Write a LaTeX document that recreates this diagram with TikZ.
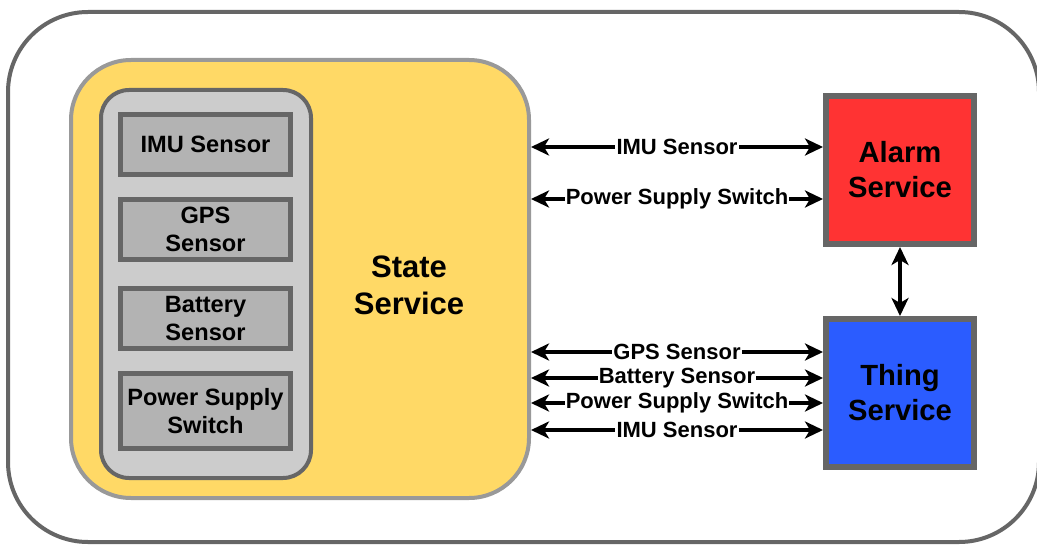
\documentclass[tikz,border=0pt]{standalone}
\usepackage{fontspec}
\setmainfont{Liberation Sans}
\usetikzlibrary{arrows.meta,positioning}
\definecolor{framegray}{HTML}{666666}
\definecolor{stategray}{HTML}{999999}
\definecolor{stateyellow}{HTML}{FFD966}
\definecolor{groupgray}{HTML}{CCCCCC}
\definecolor{sensorgray}{HTML}{B3B3B3}
\definecolor{alarmred}{HTML}{FF3333}
\definecolor{thingblue}{HTML}{2B5CFF}

\begin{document}
\begin{tikzpicture}[
        x=0.5pt, y=-0.5pt,
        sensor/.style={draw=framegray, line width=2.5pt, fill=sensorgray, minimum width=85pt, minimum height=30pt, inner sep=0pt, align=center, font=\fontsize{11.8}{14}\selectfont\bfseries},
        service/.style={draw=framegray, line width=3pt, minimum size=74pt, inner sep=0pt, align=center, font=\fontsize{14.6}{17.5}\selectfont\bfseries},
        link/.style={{Stealth[length=9pt,width=8.5pt,inset=2.5pt]}-{Stealth[length=9pt,width=8.5pt,inset=2.5pt]}, line width=1.8pt},
        tag/.style={fill=white, inner sep=0.6pt, font=\fontsize{11}{12}\selectfont\bfseries}
    ]
    \useasboundingbox (0,0) rectangle (1037,545);
    \draw[framegray, line width=2pt, rounded corners=40pt] (8,12) rectangle (1039,542);

    \node[draw=stategray, fill=stateyellow, line width=2pt, rounded corners=30pt, minimum width=229pt, minimum height=219pt] (state) at (300,279) {};
    \node[align=center, font=\fontsize{15.5}{18.5}\selectfont\bfseries] (statelbl) at (409,285) {State\\Service};

    \node[draw=framegray, fill=groupgray, line width=2pt, rounded corners=14pt, minimum width=105pt, minimum height=194pt] (sensors) at (206,284) {};
    \node[sensor] (imu) at (205.5,144.5) {IMU Sensor};
    \node[sensor] (gps) at (205.5,229.5) {GPS\\Sensor};
    \node[sensor] (battery) at (205.5,318) {Battery\\Sensor};
    \node[sensor, minimum height=37.5pt] (power) at (205.5,411) {Power Supply\\Switch};

    \node[service, fill=alarmred] (alarm) at (900,170) {Alarm\\Service};
    \node[service, fill=thingblue] (thing) at (900,393) {Thing\\Service};

    \draw[link] (state.east |- 0,147) -- node[tag] {IMU Sensor} (alarm.west |- 0,147);
    \draw[link] (state.east |- 0,199) -- node[tag] {Power Supply Switch} (alarm.west |- 0,199);
    \draw[link] (state.east |- 0,352) -- node[tag] {GPS Sensor} (thing.west |- 0,352);
    \draw[link] (state.east |- 0,378) -- node[tag] {Battery Sensor} (thing.west |- 0,378);
    \draw[link] (state.east |- 0,403) -- node[tag] {Power Supply Switch} (thing.west |- 0,403);
    \draw[link] (state.east |- 0,430) -- node[tag] {IMU Sensor} (thing.west |- 0,430);
    \draw[link] (alarm) -- (thing);
\end{tikzpicture}
\end{document}
